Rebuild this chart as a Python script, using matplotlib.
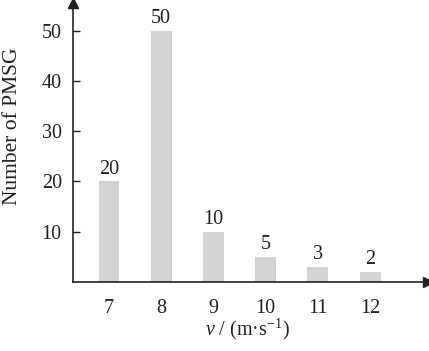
import matplotlib
matplotlib.use("Agg")
import matplotlib.pyplot as plt

speeds = [7, 8, 9, 10, 11, 12]
counts = [20, 50, 10, 5, 3, 2]
yticks = [10, 20, 30, 40, 50]

plt.rcParams['font.family'] = ['Liberation Serif', 'DejaVu Serif']
plt.rcParams['mathtext.fontset'] = 'custom'
plt.rcParams['mathtext.rm'] = 'Liberation Serif'
plt.rcParams['mathtext.it'] = 'Liberation Serif:italic'

fig = plt.figure(figsize=(4.29, 3.51), dpi=100)
ax = fig.add_axes([0.170, 0.197, 0.828, 0.794])

ax.bar(speeds, counts, width=0.4, color='#d3d3d3', zorder=2)
for x, c in zip(speeds, counts):
    ax.text(x, c + 0.5, str(c), ha='center', va='bottom', fontsize=14.5, color='#222222')

ax.set_xlim(6.31, 13.11)
ax.set_ylim(0, 55.5)
ax.set_xticks(speeds)
ax.set_xticklabels([str(s) for s in speeds])
ax.set_yticks(yticks)
ax.tick_params(axis='y', direction='in', length=5, width=1, labelsize=14.5, pad=8, colors='#222222')
ax.tick_params(axis='x', length=0, labelsize=14.5, pad=12, colors='#222222')

for s in ['top', 'right']:
    ax.spines[s].set_visible(False)
for s in ['left', 'bottom']:
    ax.spines[s].set_linewidth(1.2)
    ax.spines[s].set_color('#222222')

# arrow heads
ax.plot(1, 0, '>', transform=ax.transAxes, clip_on=False, color='#222222', markersize=7)
ax.plot(0, 1, '^', transform=ax.transAxes, clip_on=False, color='#222222', markersize=7)

fig.text(13 / 429, 1 - 126 / 351, 'Number of PMSG', rotation=90, ha='center', va='center',
         fontsize=15.5, color='#222222')
fig.text(247 / 429, 1 - 335 / 351, r'$v$ / (m·s$^{-1}$)', ha='center', va='baseline',
         fontsize=14.5, color='#222222')

fig.savefig('out.png', dpi=100)
